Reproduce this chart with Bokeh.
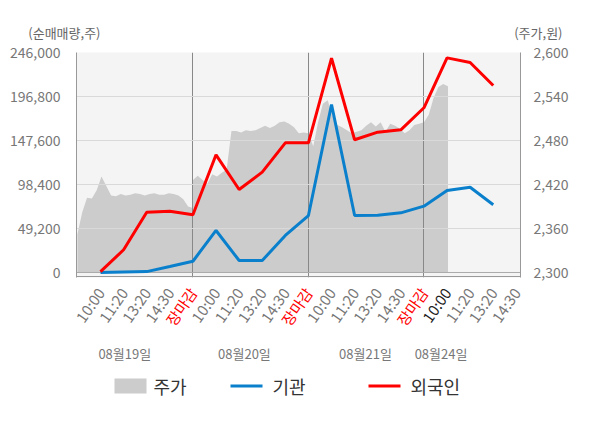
from bokeh.plotting import figure
from bokeh.models import (Range1d, LinearAxis, FixedTicker, NumeralTickFormatter, Span)
from bokeh.core.properties import value
from bokeh.embed import file_html
from bokeh.resources import INLINE

FONT = "Noto Sans CJK KR"

# ---------------- data ----------------
tick_labels = ["10:00", "11:20", "13:20", "14:30", "장마감",
               "10:00", "11:20", "13:20", "14:30", "장마감",
               "10:00", "11:20", "13:20", "14:30", "장마감",
               "10:00", "11:20", "13:20", "14:30"]
tick_colors = ["#777777"] * 4 + ["#ff0000"] + ["#777777"] * 4 + ["#ff0000"] + \
              ["#777777"] * 4 + ["#ff0000"] + ["#222222"] + ["#777777"] * 3

dates = ["08월19일", "08월20일", "08월21일", "08월24일"]
date_pos = [1.05, 6.23, 11.47, 14.74]

foreign = [1000, 25400, 67400, 68500, 64500, 131600, 92800, 112200, 145000,
           145000, 239600, 148400, 156900, 159500, 184200, 240000, 234800, 209100]
inst = [0, 500, 1000, 6700, 12600, 47000, 13400, 13400, 41400,
        63700, 187900, 63700, 64000, 66700, 74200, 91700, 95400, 75700]

day1 = [2352, 2382, 2402, 2401, 2412, 2431, 2418, 2405, 2404, 2407, 2405, 2406, 2408,
        2407, 2405, 2407, 2408, 2406, 2406, 2408, 2407, 2405, 2400, 2390, 2388]
day2 = [2426, 2432, 2426, 2421, 2434, 2431, 2436, 2440, 2493, 2493, 2491, 2494, 2493,
        2494, 2497, 2500, 2497, 2500, 2505, 2506, 2503, 2498, 2490, 2491, 2490]
day3 = [2490, 2472, 2505, 2530, 2535, 2514, 2501, 2498, 2494, 2490, 2492, 2494, 2500,
        2505, 2499, 2505, 2492, 2503, 2500, 2496, 2490, 2494, 2501, 2503, 2505]
day4 = [2505, 2515, 2538, 2553, 2557, 2554]
days = [day1, day2, day3, day4]
SAMPLES_PER_DAY = 25

left_ticks = [0, 49200, 98400, 147600, 196800, 246000]
right_ticks = [2300, 2360, 2420, 2480, 2540, 2600]
legend_labels = ["주가", "기관", "외국인"]
AREA_COLOR, INST_COLOR, FOR_COLOR = "#cccccc", "#0a80cc", "#ff0000"

# ---------------- layout constants ----------------
W = 592
LEFT, FRAME_W, RIGHT = 76, 444, 72
X0, X1 = -1.04, 18.18
SCALE = FRAME_W / (X1 - X0)
TOP_H = 42


def ix(px):
    return (px - LEFT) / SCALE + X0


def strip(height, x_range):
    f = figure(width=W, height=height, x_axis_type=None, y_axis_type=None,
               x_range=x_range, y_range=Range1d(height, 0), min_border=0,
               output_backend="svg", toolbar_location=None)
    f.outline_line_color = None
    f.background_fill_color = "white"
    f.border_fill_color = "white"
    f.grid.visible = False
    return f


# ---------------- top strip (unit labels) ----------------
top = strip(TOP_H, Range1d(0, W))
top.text(x=[100, 562], y=[32, 32], text=["(순매매량,주)", "(주가,원)"],
         text_align="right", text_baseline="middle", text_color="#666666",
         text_font=value(FONT), text_font_size=value("13px"))

# ---------------- main chart ----------------
p = figure(frame_width=FRAME_W, frame_height=225, output_backend="svg", toolbar_location=None,
           x_range=Range1d(X0, X1), y_range=Range1d(-5591, 246000),
           min_border_left=LEFT, min_border_right=RIGHT, min_border_top=52 - TOP_H,
           min_border_bottom=5)
p.extra_y_ranges = {"price": Range1d(2293.18, 2600)}
p.background_fill_color = "#f4f4f4"
p.border_fill_color = "white"
p.outline_line_color = None

px, py = [], []
for k, d in enumerate(days):
    for j, v in enumerate(d):
        px.append(5 * k - 1 + j * 5 / (SAMPLES_PER_DAY - 1))
        py.append(v)
area = p.varea(x=px, y1=[2300] * len(px), y2=py, y_range_name="price",
               fill_color=AREA_COLOR, level="image")

xs = list(range(len(foreign)))
p.line(xs, inst, line_color=INST_COLOR, line_width=3)
p.line(xs, foreign, line_color=FOR_COLOR, line_width=3)

yax = p.yaxis[0]
yax.ticker = FixedTicker(ticks=left_ticks)
yax.formatter = NumeralTickFormatter(format="0,0")
yax.axis_line_color = "#999999"
yax.major_tick_line_color = None
yax.minor_tick_line_color = None
yax.major_label_text_font = FONT
yax.major_label_text_font_size = "14px"
yax.major_label_text_color = "#777777"
yax.major_label_standoff = 10

rax = LinearAxis(y_range_name="price", ticker=FixedTicker(ticks=right_ticks),
                 formatter=NumeralTickFormatter(format="0,0"))
rax.axis_line_color = "#999999"
rax.major_tick_line_color = None
rax.minor_tick_line_color = None
rax.major_label_text_font = FONT
rax.major_label_text_font_size = "14px"
rax.major_label_text_color = "#777777"
rax.major_label_standoff = 7
p.add_layout(rax, "right")

p.xaxis.visible = False
p.ygrid.ticker = FixedTicker(ticks=left_ticks[1:-1])
p.ygrid.grid_line_color = "#d9d9d9"
p.xgrid.ticker = FixedTicker(ticks=[4, 9, 14])
p.xgrid.grid_line_color = "#888888"

p.add_layout(Span(location=0, dimension="width", line_color="#aaaaaa", line_width=1,
                  level="underlay"))
p.add_layout(Span(location=-4473, dimension="width", line_color="#999999", line_width=1,
                  level="underlay"))

# ---------------- bottom strip (x labels, dates, legend) ----------------
BOT_TOP = 282           # page y where the bottom strip starts
BH = 118
bot = strip(BH, Range1d(ix(0), ix(W)))
bot.text(x=list(range(len(tick_labels))), y=[289 - BOT_TOP] * len(tick_labels),
         text=tick_labels, angle=0.96, text_align="right", text_baseline="middle",
         text_color=tick_colors, text_font=value(FONT), text_font_size=value("15px"))
bot.text(x=date_pos, y=[353 - BOT_TOP] * len(dates), text=dates, text_align="center",
         text_baseline="middle", text_color="#777777",
         text_font=value(FONT), text_font_size=value("13px"))

# legend
LY = 385.5 - BOT_TOP
bot.quad(left=[ix(114)], right=[ix(146)], top=[LY - 7.5], bottom=[LY + 7.5],
         fill_color=AREA_COLOR, line_color=None)
bot.segment(x0=[ix(230), ix(368)], x1=[ix(262), ix(400)], y0=[LY, LY], y1=[LY, LY],
            line_color=[INST_COLOR, FOR_COLOR], line_width=3)
bot.text(x=[ix(153), ix(272), ix(410)], y=[LY] * 3, text=legend_labels,
         text_align="left", text_baseline="middle", text_color="#333333",
         text_font=value(FONT), text_font_size=value("18px"))

open("out.html", "w").write(file_html([top, p, bot], INLINE))
